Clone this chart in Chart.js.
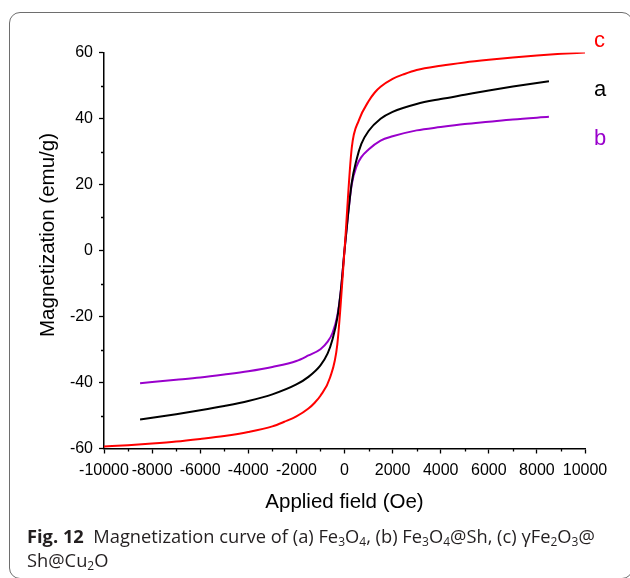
<!DOCTYPE html>
<html>
<head>
<meta charset="utf-8">
<script src="https://cdn.jsdelivr.net/npm/chart.js@4/dist/chart.umd.min.js"></script>
<style>
  body { margin: 0; background: #fff; }
  #wrap { position: relative; width: 630px; height: 578px; overflow: hidden; }
  #frame { position: absolute; left: 9px; top: 12px; width: 624px; height: 567px;
           border: 1.5px solid #6e6e6e; border-radius: 11px; box-sizing: border-box; }
  canvas { position: absolute; left: 0; top: 0; }
  .lbl { position: absolute; font: 22px "Liberation Sans", Arial, sans-serif; line-height: 22px; }
  #ytitle { position: absolute; left: 46.5px; top: 235px; width: 300px; margin-left: -150px;
            text-align: center; transform: translateY(-50%) rotate(-90deg);
            font: 20.5px "Liberation Sans", Arial, sans-serif; line-height: 24px; color: #000; }
  #caption { position: absolute; left: 27px; top: 524px; width: 600px;
             font: 18.3px "Open Sans", sans-serif; line-height: 24px; color: #231f20; }
  #caption b { font-weight: 700; }
  #caption sub { font-size: 12px; line-height: 0; vertical-align: -3px; }
</style>
</head>
<body>
<div id="wrap">
  <div id="frame"></div>
  <canvas id="chartMag" width="630" height="578"></canvas>
  <div id="ytitle">Magnetization (emu/g)</div>
  <div class="lbl" style="left:594px; top:29px; color:#ff0000;">c</div>
  <div class="lbl" style="left:594px; top:78px; color:#000;">a</div>
  <div class="lbl" style="left:594px; top:127px; color:#9900cc;">b</div>
  <div id="caption"><b>Fig. 12</b>&nbsp; Magnetization curve of (a) Fe<sub>3</sub>O<sub>4</sub>, (b) Fe<sub>3</sub>O<sub>4</sub>@Sh, (c) γFe<sub>2</sub>O<sub>3</sub>@<br>Sh@Cu<sub>2</sub>O</div>
</div>
<script>
// campo aplicado (Oe) y magnetización (emu/g)
const campoAB = [-8500, -7000, -6000, -5000, -4000, -3000, -2000, -1500, -1000, -700, -500, -300, -150, 0,
                 150, 300, 500, 700, 1000, 1500, 2000, 3000, 4000, 5000, 6000, 7000, 8500];
const magA = [-51.2, -49.6, -48.4, -47.1, -45.6, -43.6, -40.6, -38.3, -34.8, -31.2, -27.0, -20.5, -12, 0,
              11, 20.5, 27.5, 32.3, 36.2, 39.9, 42.0, 44.4, 45.9, 47.2, 48.5, 49.7, 51.3];
const magB = [-40.2, -39.2, -38.5, -37.6, -36.6, -35.3, -33.5, -31.8, -29.9, -27.6, -25.0, -19.8, -12, 0,
              11, 20, 25.5, 28.3, 30.6, 33.3, 34.6, 36.4, 37.4, 38.3, 39.0, 39.7, 40.5];

const campoC = [-10000, -9000, -8000, -7000, -6000, -5000, -4000, -3000, -2500, -2000, -1500, -1250, -1000, -600, -300, 0,
                300, 600, 1000, 1250, 1500, 2000, 2500, 3000, 4000, 5000, 6000, 7000, 8000, 9000, 10000];
const magC = [-59.4, -59.0, -58.5, -57.9, -57.1, -56.2, -55.0, -53.3, -51.9, -50.3, -47.9, -46.2, -44.0, -38.5, -28.5, 0,
              31, 39.5, 45.2, 47.8, 49.6, 52.0, 53.5, 54.7, 56.0, 57.0, 57.8, 58.5, 59.1, 59.6, 60.0];

const ticksX = [-10000, -8000, -6000, -4000, -2000, 0, 2000, 4000, 6000, 8000, 10000];
const ticksY = [-60, -40, -20, 0, 20, 40, 60];
const minorX = [-9000, -7000, -5000, -3000, -1000, 1000, 3000, 5000, 7000, 9000];
const minorY = [-50, -30, -10, 10, 30, 50];

function puntos(xs, ys) {
    return xs.map((x, i) => ({ x: x, y: ys[i] }));
}

// ticks menores mas cortos que los mayores
const ticksMenores = {
    id: 'ticksMenores',
    afterDraw(chart) {
        const ctx = chart.ctx;
        const sx = chart.scales.x, sy = chart.scales.y;
        ctx.save();
        ctx.strokeStyle = '#000';
        ctx.lineWidth = 1.3;
        ctx.beginPath();
        minorX.forEach(v => {
            const px = Math.round(sx.getPixelForValue(v)) + 0.5;
            ctx.moveTo(px, sx.top);
            ctx.lineTo(px, sx.top + 3);
        });
        minorY.forEach(v => {
            const py = Math.round(sy.getPixelForValue(v)) + 0.5;
            ctx.moveTo(sy.right, py);
            ctx.lineTo(sy.right - 3, py);
        });
        ctx.stroke();
        ctx.restore();
    }
};

const fuenteEje = { family: '"Liberation Sans", Arial, sans-serif', size: 16 };
const fuenteTitulo = { family: '"Liberation Sans", Arial, sans-serif', size: 20.5 };

new Chart(document.getElementById('chartMag'), {
    type: 'line',
    data: {
        datasets: [
            { label: 'c', data: puntos(campoC, magC), borderColor: '#ff0000' },
            { label: 'a', data: puntos(campoAB, magA), borderColor: '#000000' },
            { label: 'b', data: puntos(campoAB, magB), borderColor: '#9900cc' }
        ]
    },
    options: {
        responsive: false,
        animation: false,
        devicePixelRatio: 1,
        layout: { padding: { left: 0, right: 45, top: 52.5, bottom: 0 } },
        elements: {
            line: { borderWidth: 2, cubicInterpolationMode: 'monotone', fill: false },
            point: { radius: 0 }
        },
        plugins: { legend: { display: false }, tooltip: { enabled: false } },
        scales: {
            x: {
                type: 'linear',
                min: -10000, max: 10000,
                afterFit: s => { s.height = 129.5; },
                afterBuildTicks: s => { s.ticks = ticksX.map(v => ({ value: v })); },
                ticks: { font: fuenteEje, color: '#000', padding: 7, maxRotation: 0, autoSkip: false,
                         callback: v => String(v) },
                grid: { drawOnChartArea: false, drawTicks: true, tickLength: 5, tickColor: '#000', tickWidth: 1.3 },
                border: { display: true, color: '#000', width: 1.5 },
                title: { display: true, text: 'Applied field (Oe)', font: fuenteTitulo, color: '#000',
                         padding: { top: 0, bottom: 63 } }
            },
            y: {
                type: 'linear',
                min: -60, max: 60,
                afterFit: s => { s.width = 104; },
                afterBuildTicks: s => { s.ticks = ticksY.map(v => ({ value: v })); },
                ticks: { font: fuenteEje, color: '#000', padding: 6, callback: v => String(v) },
                grid: { drawOnChartArea: false, drawTicks: true, tickLength: 5, tickColor: '#000', tickWidth: 1.3 },
                border: { display: true, color: '#000', width: 1.5 },
                title: { display: false }
            }
        }
    },
    plugins: [ticksMenores]
});
</script>
</body>
</html>
